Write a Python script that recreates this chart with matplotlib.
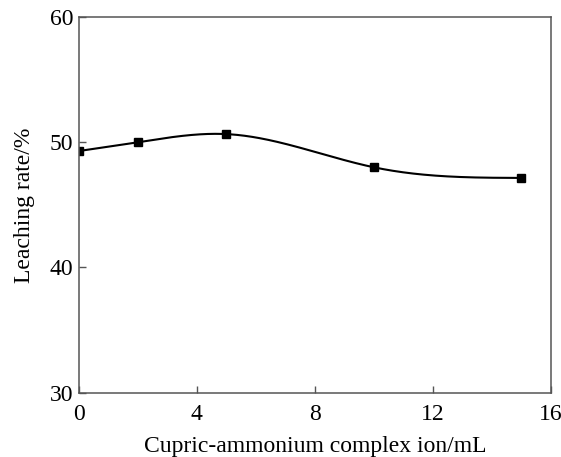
import numpy as np
import matplotlib
matplotlib.use('Agg')
import matplotlib.pyplot as plt

# data
volume  = [0, 2, 5, 10, 15]
leach   = [49.3, 50.0, 50.65, 48.0, 47.15]
x_ticks = [0, 4, 8, 12, 16]
y_ticks = [30, 40, 50, 60]


def natural_spline(x, y, n=300):
    # plain natural cubic spline, no scipy here
    x = np.asarray(x, float)
    y = np.asarray(y, float)
    k = len(x)
    h = np.diff(x)
    A = np.zeros((k, k))
    b = np.zeros(k)
    A[0, 0] = A[-1, -1] = 1
    for i in range(1, k - 1):
        A[i, i - 1] = h[i - 1]
        A[i, i] = 2 * (h[i - 1] + h[i])
        A[i, i + 1] = h[i]
        b[i] = 3 * ((y[i + 1] - y[i]) / h[i] - (y[i] - y[i - 1]) / h[i - 1])
    c = np.linalg.solve(A, b)
    xs = np.linspace(x[0], x[-1], n)
    ys = np.empty_like(xs)
    for j, xv in enumerate(xs):
        i = min(np.searchsorted(x, xv, side='right') - 1, k - 2)
        d = xv - x[i]
        bi = (y[i + 1] - y[i]) / h[i] - h[i] * (2 * c[i] + c[i + 1]) / 3
        di = (c[i + 1] - c[i]) / (3 * h[i])
        ys[j] = y[i] + bi * d + c[i] * d ** 2 + di * d ** 3
    return xs, ys


plt.rcParams['font.family'] = ['Liberation Serif', 'DejaVu Serif']

fig = plt.figure(figsize=(5.61, 4.57), dpi=100)
ax = fig.add_axes([0.1408, 0.1407, 0.8409, 0.8221])

xs, ys = natural_spline(volume, leach)
ax.plot(xs, ys, color='black', linewidth=1.5)
ax.plot(volume, leach, 's', color='black', markersize=5.5)

ax.set_xlim(0, 16)
ax.set_ylim(30, 60)
ax.set_xticks(x_ticks)
ax.set_yticks(y_ticks)
ax.tick_params(direction='in', length=5, width=1, color='#555555',
               labelsize=17, top=False, right=False)
ax.tick_params(axis='x', pad=8)
ax.tick_params(axis='y', pad=4)
for sp in ax.spines.values():
    sp.set_color('#555555')
    sp.set_linewidth(1.1)

ax.set_xlabel('Cupric-ammonium complex ion/mL', fontsize=17, labelpad=8)
ax.set_ylabel('Leaching rate/%', fontsize=17, labelpad=11)

fig.savefig('out.png', dpi=100)
